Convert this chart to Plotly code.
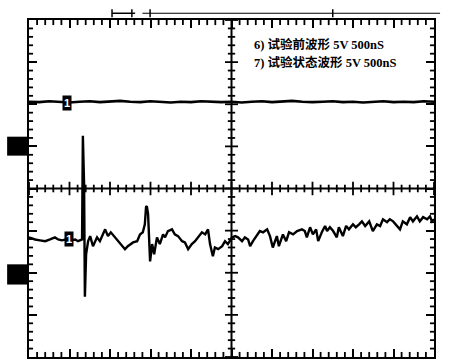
import numpy as np
import plotly.graph_objects as go

# ---- data (time in divisions of 500 ns, amplitude in divisions of 5 V) ----
t6 = np.linspace(0, 10, 41)
v6 = [2.06, 2.05, 2.07, 2.06, 2.04, 2.06, 2.07, 2.05, 2.06, 2.08, 2.06,
      2.05, 2.07, 2.06, 2.04, 2.06, 2.05, 2.07, 2.06, 2.05, 2.06, 2.04,
      2.06, 2.07, 2.05, 2.06, 2.08, 2.06, 2.05, 2.06, 2.07, 2.05, 2.06,
      2.04, 2.06, 2.07, 2.05, 2.06, 2.05, 2.07, 2.06]

t7 = [0.00, 0.15, 0.27, 0.40, 0.52, 0.64, 0.72, 0.81, 0.91, 1.01, 1.14, 1.21,
      1.31, 1.33, 1.36, 1.38, 1.41, 1.46, 1.51, 1.58, 1.68, 1.75, 1.88, 1.95,
      2.02, 2.10, 2.20, 2.37, 2.44, 2.57, 2.67, 2.74, 2.81, 2.86, 2.89, 2.91,
      2.94, 2.96, 2.99, 3.04, 3.09, 3.16, 3.23, 3.31, 3.36, 3.43, 3.53, 3.60,
      3.68, 3.78, 3.85, 3.93, 4.02, 4.10, 4.17, 4.27, 4.35, 4.42, 4.47, 4.54,
      4.59, 4.67, 4.77, 4.84, 4.91, 5.01, 5.09, 5.16, 5.26, 5.33, 5.41, 5.46,
      5.53, 5.63, 5.70, 5.78, 5.88, 5.95, 6.02, 6.12, 6.17, 6.27, 6.35, 6.42,
      6.52, 6.62, 6.74, 6.81, 6.86, 6.94, 7.01, 7.09, 7.14, 7.23, 7.31, 7.36,
      7.43, 7.51, 7.60, 7.65, 7.75, 7.83, 7.90, 8.00, 8.07, 8.15, 8.22, 8.30,
      8.40, 8.49, 8.59, 8.67, 8.74, 8.84, 8.91, 8.99, 9.09, 9.16, 9.23, 9.33,
      9.41, 9.48, 9.58, 9.65, 9.73, 9.83, 9.90, 9.95, 10.00]
v7 = [-1.16, -1.21, -1.23, -1.25, -1.21, -1.16, -1.21, -1.23, -1.21, -1.23, -1.21, -1.25,
      -1.21, 1.25, 0.11, -2.57, -1.56, -1.25, -1.13, -1.37, -1.16, -1.25, -0.97, -1.13,
      -1.04, -1.13, -1.25, -1.44, -1.37, -1.28, -1.25, -1.09, -1.04, -0.85, -0.44, -0.42,
      -0.61, -1.21, -1.73, -1.32, -1.56, -1.16, -1.32, -1.09, -1.16, -1.01, -0.97, -1.09,
      -1.13, -1.25, -1.28, -1.44, -1.32, -1.25, -1.16, -1.04, -1.09, -0.97, -1.32, -1.61,
      -1.40, -1.44, -1.37, -1.25, -1.32, -1.16, -1.13, -1.16, -1.25, -1.16, -1.21, -1.37,
      -1.25, -1.09, -1.01, -1.04, -0.97, -1.13, -1.40, -1.13, -1.37, -1.09, -1.25, -1.04,
      -1.09, -1.01, -0.97, -1.01, -1.16, -0.92, -1.09, -0.97, -1.25, -1.04, -0.89, -1.01,
      -0.92, -1.01, -1.16, -0.92, -1.13, -0.89, -0.97, -0.85, -0.92, -0.85, -0.78, -0.89,
      -0.78, -1.01, -0.85, -0.89, -0.73, -0.80, -0.73, -0.78, -0.89, -0.97, -0.78, -0.85,
      -0.68, -0.78, -0.66, -0.78, -0.68, -0.73, -0.66, -0.78, -0.73]

legend_lines = ["6) 试验前波形 5V 500nS", "7) 试验状态波形 5V 500nS"]

fig = go.Figure()

def is_major(v):
    return abs(v - round(v)) < 1e-6

# graticule tick positions (every 1/5 division)
cx = [round(float(v), 2) for v in np.arange(0, 10.001, 0.2)]
cy = [round(float(v), 2) for v in np.arange(-4, 4.001, 0.2)]

hy_min, hy_maj = 0.09, 0.16
hx_min, hx_maj = 0.09, 0.16

gx, gy = [], []
for v in cx:  # centre horizontal line ticks
    h = hy_maj if is_major(v) else hy_min
    gx += [v, v, None]; gy += [-h, h, None]
for v in cy:  # centre vertical line ticks
    h = hx_maj if is_major(v) else hx_min
    gx += [5 - h, 5 + h, None]; gy += [v, v, None]
for v in cx:  # top / bottom border minor ticks
    if not is_major(v):
        gx += [v, v, None, v, v, None]; gy += [4, 3.88, None, -4, -3.88, None]
for v in cy:  # left / right border minor ticks
    if not is_major(v):
        gx += [0, 0.1, None, 10, 9.9, None]; gy += [v, v, None, v, v, None]
fig.add_trace(go.Scatter(x=gx, y=gy, mode="lines", hoverinfo="skip", connectgaps=False,
                         line=dict(color="black", width=1.8), showlegend=False))

# waveforms
fig.add_trace(go.Scatter(x=t6, y=v6, mode="lines", line=dict(color="black", width=2.6), showlegend=False))
fig.add_trace(go.Scatter(x=t7, y=v7, mode="lines", line=dict(color="black", width=2.4), showlegend=False))

# centre lines
fig.add_shape(type="line", x0=0, x1=10, y0=0, y1=0, line=dict(color="black", width=2))
fig.add_shape(type="line", x0=5, x1=5, y0=-4, y1=4, line=dict(color="black", width=2))

# channel markers on traces
for xm, ym in [(0.94, v6[4]), (0.99, v7[8])]:
    fig.add_annotation(x=xm, y=ym, text="<b>1</b>", showarrow=False, bgcolor="black",
                       font=dict(color="white", size=11, family="Liberation Sans"), borderpad=1)

# left-side channel boxes
for y0, y1 in [(0.78, 1.23), (-2.28, -1.80)]:
    fig.add_shape(type="rect", xref="paper", yref="y", x0=-0.054, x1=-0.002, y0=y0, y1=y1,
                  fillcolor="black", line=dict(width=0))

# trigger / time-base bar above graticule
fig.add_shape(type="line", xref="paper", yref="paper", x0=0.205, x1=0.262, y0=1.02, y1=1.02,
              line=dict(color="black", width=1.5))
fig.add_shape(type="line", xref="paper", yref="paper", x0=0.28, x1=1.015, y0=1.02, y1=1.02,
              line=dict(color="black", width=1))
for xp in [0.205, 0.254, 0.299, 0.75]:
    fig.add_shape(type="line", xref="paper", yref="paper", x0=xp, x1=xp, y0=1.008, y1=1.032,
                  line=dict(color="black", width=1.5))

# legend text
for i, txt in enumerate(legend_lines):
    fig.add_annotation(xref="paper", yref="paper", x=0.551, y=0.928 - i * 0.054, text="<b>" + txt + "</b>",
                       showarrow=False, xanchor="left", yanchor="middle",
                       font=dict(size=12.5, color="black", family="Liberation Serif, Noto Sans CJK SC"))

axis_common = dict(showgrid=False, zeroline=False, showticklabels=False, showline=True,
                   linecolor="black", linewidth=2, mirror="allticks", ticks="inside",
                   ticklen=8, tickwidth=1.6, tickcolor="black", dtick=1, tick0=0)
fig.update_xaxes(range=[0, 10], **axis_common)
fig.update_yaxes(range=[-4, 4], **axis_common)

fig.update_layout(width=451, height=362, margin=dict(l=29, r=17, t=20, b=5),
                  paper_bgcolor="white", plot_bgcolor="white")

fig.write_html("out.html")
